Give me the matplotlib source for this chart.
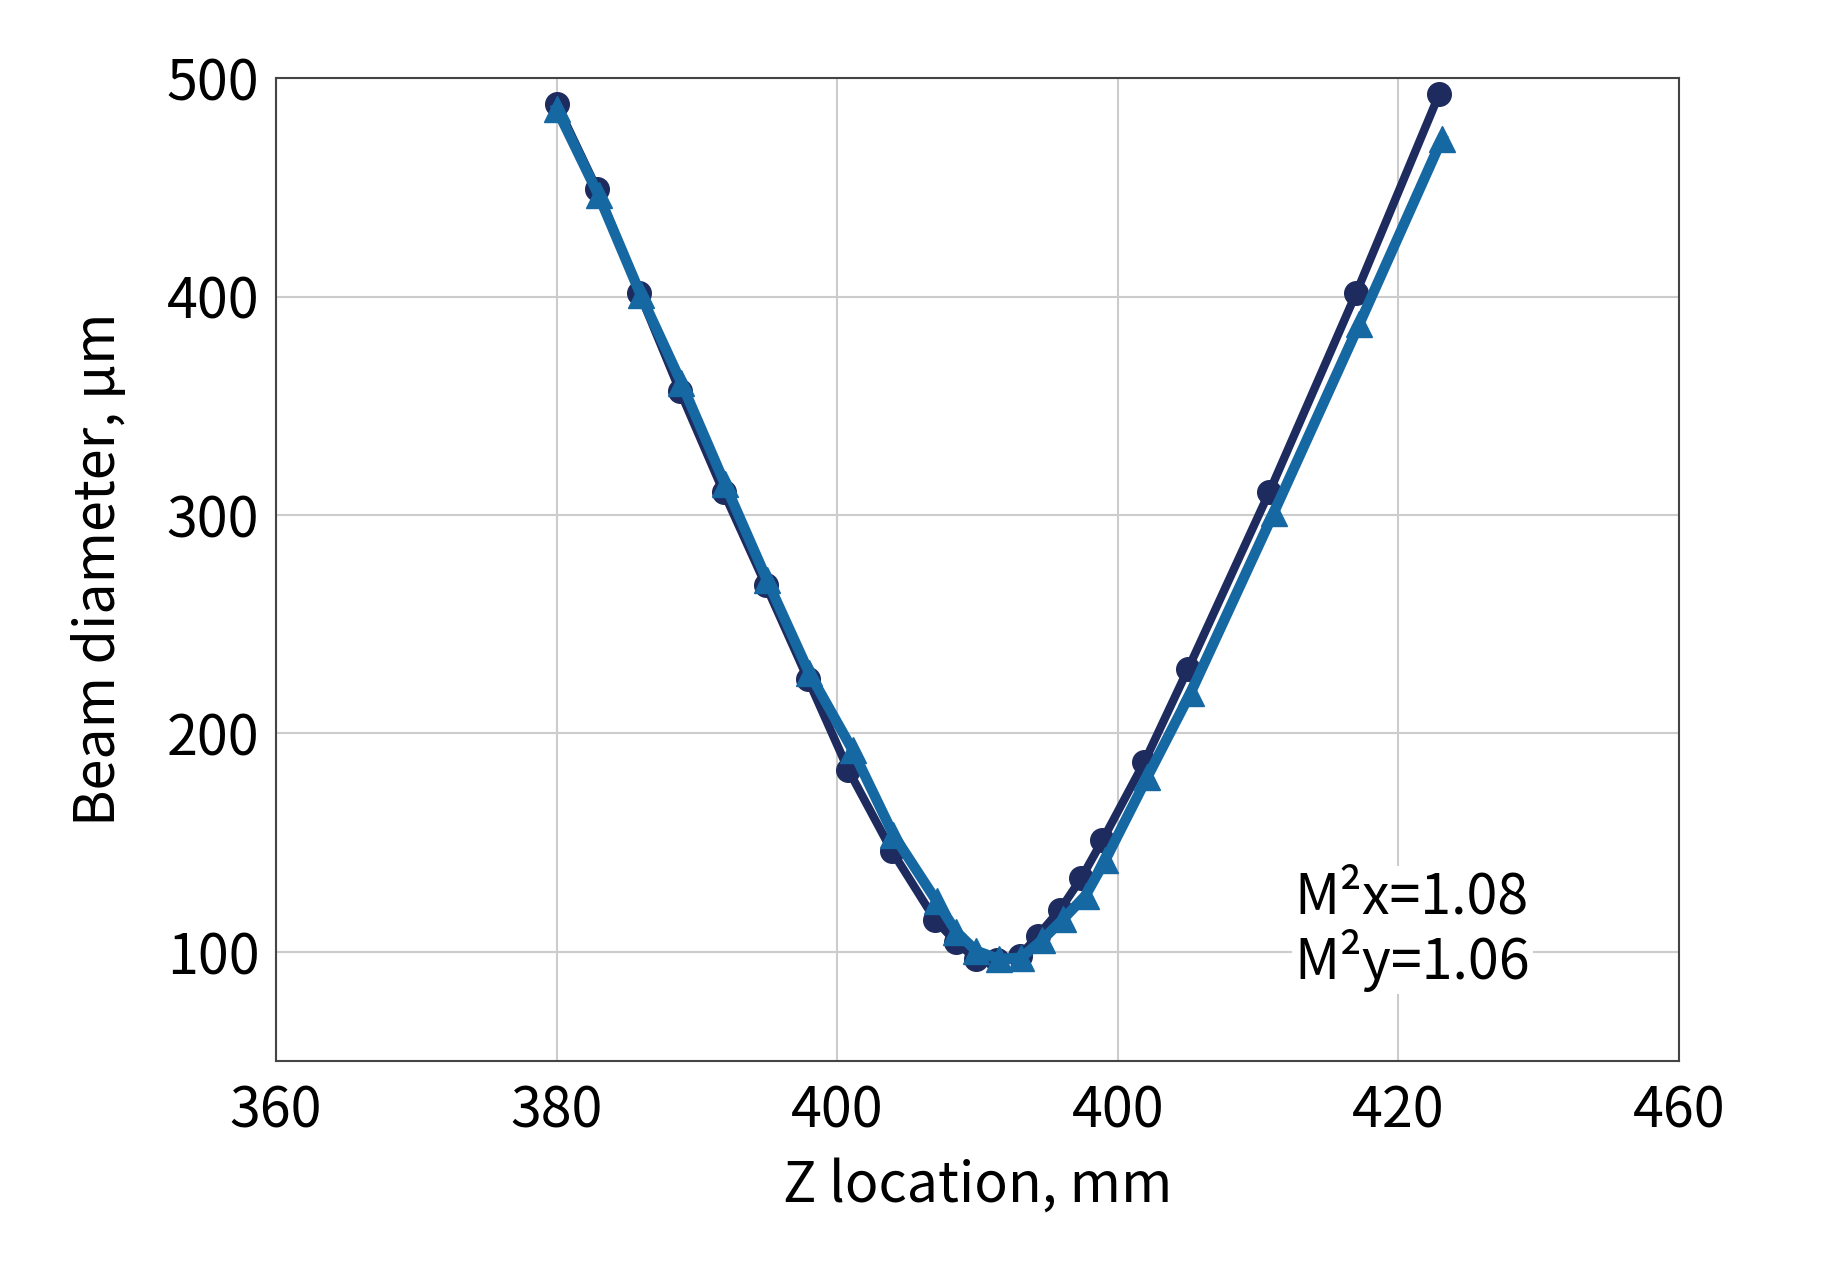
import numpy as np
import matplotlib.pyplot as plt

plt.rcParams['font.family'] = ['Noto Sans CJK SC', 'DejaVu Sans']

# Beam diameter along Z
z_x = [380.0, 382.9, 385.9, 388.8, 391.9, 394.9, 397.9, 400.8, 403.9, 407.0, 408.5, 409.9,
       411.4, 413.0, 414.3, 415.9, 417.4, 418.9, 421.9, 425.0, 430.8, 437.0, 442.9]
d_x = [488.2, 449.0, 401.7, 356.6, 310.5, 268.0, 225.0, 183.2, 146.2, 114.5, 104.3, 96.8,
       96.2, 97.9, 107.5, 119.4, 133.8, 151.0, 187.0, 229.4, 310.5, 401.7, 492.5]

z_y = [380.0, 383.0, 386.0, 388.9, 392.0, 395.0, 398.0, 401.1, 404.0, 407.1, 408.5, 409.9,
       411.5, 413.1, 414.6, 416.1, 417.7, 419.1, 422.1, 425.2, 431.1, 437.2, 443.1]
d_y = [486.0, 446.3, 400.7, 360.4, 314.2, 270.2, 227.8, 192.4, 153.7, 123.1, 109.1, 100.5,
       96.8, 97.3, 105.4, 115.0, 125.8, 141.9, 180.0, 218.7, 300.8, 387.2, 472.0]

x_ticks = [360, 380, 400, 420, 440, 460]
x_tick_labels = ['360', '380', '400', '400', '420', '460']
y_ticks = [100, 200, 300, 400, 500]

fig = plt.figure(figsize=(18.4, 12.8), dpi=100)
ax = fig.add_axes([0.15, 0.171, 0.7625, 0.768])

ax.plot(z_x, d_x, color='#1d2b5f', lw=6, marker='o', ms=17, label='x', zorder=3)
ax.plot(z_y, d_y, color='#1668a3', lw=7.5, marker='^', ms=19, label='y', zorder=4)

ax.set_xlim(360, 460)
ax.set_ylim(50, 500)
ax.set_xticks(x_ticks)
ax.set_xticklabels(x_tick_labels)
ax.set_yticks(y_ticks)
ax.tick_params(length=0, labelsize=40, pad=12)
ax.tick_params(axis='x', pad=16)
ax.grid(True, color='#cccccc', lw=1.5)
ax.set_axisbelow(True)
for s in ax.spines.values():
    s.set_color('#444444')
    s.set_linewidth(1.5)

ax.set_xlabel('Z location, mm', fontsize=40, labelpad=12)
ax.set_ylabel('Beam diameter, µm', fontsize=40, labelpad=28)

ax.text(432.6, 110, 'M²x=1.08\nM²y=1.06', fontsize=40, va='center', ha='left',
        linespacing=1.05, zorder=5,
        bbox=dict(facecolor='white', edgecolor='none', pad=2))

fig.savefig('out.png', dpi=100)
